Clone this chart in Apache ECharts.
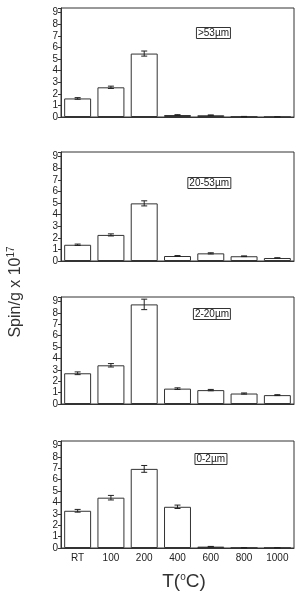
<!DOCTYPE html>
<html>
<head>
<meta charset="utf-8">
<script src="https://cdn.jsdelivr.net/npm/echarts@6/dist/echarts.min.js"></script>
<style>
  html, body { margin: 0; padding: 0; background: #fff; }
  #chart { width: 296px; height: 595px; }
</style>
</head>
<body>
<div id="chart"></div>
<script>
// temperatures (x categories) shared by all four panels
var temps = ['RT', '100', '200', '400', '600', '800', '1000'];
var sizes = ['>53\u00b5m', '20-53\u00b5m', '2-20\u00b5m', '0-2\u00b5m'];

// spin concentration, x 10^17 spin/g
var spin53 = [1.6, 2.56, 5.47, 0.17, 0.15, 0.03, 0.01];
var spin2053 = [1.4, 2.25, 4.97, 0.43, 0.66, 0.41, 0.26];
var spin220 = [2.7, 3.4, 8.75, 1.35, 1.22, 0.92, 0.78];
var spin02 = [3.27, 4.42, 6.95, 3.62, 0.12, 0.02, 0.02];

// error bar half widths
var err53 = [0.07, 0.1, 0.22, 0.03, 0.03, 0.02, 0.01];
var err2053 = [0.06, 0.09, 0.22, 0.04, 0.05, 0.03, 0.02];
var err220 = [0.12, 0.15, 0.46, 0.07, 0.06, 0.05, 0.04];
var err02 = [0.12, 0.2, 0.3, 0.15, 0.02, 0.01, 0.01];

var yTicks = [0, 1, 2, 3, 4, 5, 6, 7, 8, 9];

(function () {
  var chart = echarts.init(document.getElementById('chart'));

  var panelVals = [spin53, spin2053, spin220, spin02];
  var panelErrs = [err53, err2053, err220, err02];
  var tops = [8, 152, 297, 441];
  var heights = [109, 109, 107, 107];
  var boxTops = [27, 177, 308, 453];
  var boxRights = [65, 65, 65, 69];
  var ink = '#333';

  var grids = [], xAxes = [], yAxes = [], series = [], titles = [];

  panelVals.forEach(function (vals, i) {
    grids.push({
      left: 61, right: 2, top: tops[i], height: heights[i],
      show: true, borderColor: ink, borderWidth: 1
    });
    xAxes.push({
      type: 'category', gridIndex: i, data: temps,
      axisLine: { lineStyle: { color: ink } },
      axisTick: { alignWithLabel: true, length: 3, lineStyle: { color: ink } },
      axisLabel: {
        show: i === 3, color: '#222', fontSize: 10, margin: 5,
        fontFamily: 'Liberation Sans, Arial, sans-serif'
      }
    });
    yAxes.push({
      type: 'value', gridIndex: i, min: 0, max: 9.4, interval: 1,
      axisLine: { show: true, lineStyle: { color: ink } },
      axisTick: { show: true, length: 3, lineStyle: { color: ink } },
      splitLine: { show: false },
      axisLabel: {
        color: '#222', fontSize: 10, margin: 3,
        fontFamily: 'Liberation Sans, Arial, sans-serif',
        formatter: function (v) {
          return yTicks.indexOf(v) >= 0 ? String(v) : '';
        }
      }
    });
    series.push({
      type: 'bar', xAxisIndex: i, yAxisIndex: i, data: vals,
      barWidth: '81%',
      itemStyle: { color: '#fff', borderColor: ink, borderWidth: 1 },
      silent: true
    });
    var errs = panelErrs[i];
    series.push({
      type: 'custom', xAxisIndex: i, yAxisIndex: i, silent: true, z: 5,
      data: vals.map(function (v, k) { return [k, v - errs[k], v + errs[k]]; }),
      renderItem: function (params, api) {
        var lo = api.coord([api.value(0), api.value(1)]);
        var hi = api.coord([api.value(0), api.value(2)]);
        var cap = 3;
        var style = { stroke: '#222', lineWidth: 1 };
        return {
          type: 'group',
          children: [
            { type: 'line', shape: { x1: lo[0], y1: lo[1], x2: hi[0], y2: hi[1] }, style: style },
            { type: 'line', shape: { x1: lo[0] - cap, y1: lo[1], x2: lo[0] + cap, y2: lo[1] }, style: style },
            { type: 'line', shape: { x1: hi[0] - cap, y1: hi[1], x2: hi[0] + cap, y2: hi[1] }, style: style }
          ]
        };
      }
    });
    titles.push({
      text: sizes[i], right: boxRights[i], top: boxTops[i],
      padding: [1, 2],
      borderColor: ink, borderWidth: 1,
      textStyle: {
        fontSize: 10, fontWeight: 'normal', color: '#222',
        fontFamily: 'Liberation Sans, Arial, sans-serif'
      }
    });
  });

  chart.setOption({
    animation: false,
    title: titles,
    grid: grids,
    xAxis: xAxes,
    yAxis: yAxes,
    series: series,
    graphic: [
      {
        type: 'text', x: 6, y: 292, rotation: Math.PI / 2,
        style: {
          text: '{b|Spin/g x 10}{s|17}',
          align: 'center', verticalAlign: 'top',
          rich: {
            b: { fontSize: 16, fill: '#333', fontFamily: 'Liberation Sans, Arial, sans-serif' },
            s: { fontSize: 10, fill: '#333', fontFamily: 'Liberation Sans, Arial, sans-serif', padding: [0, 0, 9, 0] }
          }
        }
      },
      {
        type: 'text', x: 184, y: 572,
        style: {
          text: '{b|T(}{s|o}{b|C)}',
          align: 'center', verticalAlign: 'top',
          rich: {
            b: { fontSize: 19, fill: '#333', fontFamily: 'Liberation Sans, Arial, sans-serif' },
            s: { fontSize: 10, fill: '#333', fontFamily: 'Liberation Sans, Arial, sans-serif', padding: [0, 0, 10, 0] }
          }
        }
      }
    ]
  });

  window.addEventListener('resize', function () { chart.resize(); });
})();
</script>
</body>
</html>
